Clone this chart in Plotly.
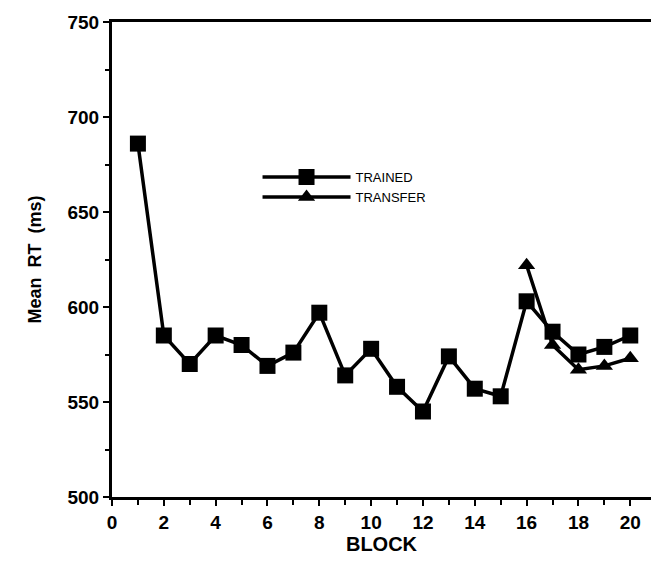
import plotly.graph_objects as go

blocks = list(range(1, 21))
trained = [686, 585, 570, 585, 580, 569, 576, 597, 564, 578,
           558, 545, 574, 557, 553, 603, 587, 575, 579, 585]
transfer_blocks = [16, 17, 18, 19, 20]
transfer = [622, 580, 567, 569, 573]
x_ticks = list(range(0, 21, 2))
y_ticks = [500, 550, 600, 650, 700, 750]

fig = go.Figure()
fig.add_trace(go.Scatter(
    x=blocks, y=trained, mode="lines+markers", name="TRAINED",
    line=dict(color="black", width=3.5),
    marker=dict(symbol="square", size=16, color="black"),
))
fig.add_trace(go.Scatter(
    x=transfer_blocks, y=transfer, mode="lines+markers", name="TRANSFER",
    line=dict(color="black", width=3.5),
    marker=dict(symbol="triangle-up", size=15, color="black"),
))

fig.update_layout(
    width=651, height=564,
    margin=dict(l=112, r=0, t=22, b=67),
    plot_bgcolor="white", paper_bgcolor="white",
    font=dict(family="Liberation Sans, Arial, sans-serif", color="black"),
    showlegend=True,
    legend=dict(x=0.27, y=0.705, xanchor="left", yanchor="top",
                bgcolor="rgba(0,0,0,0)", itemwidth=88,
                font=dict(size=13, family="Liberation Sans Narrow, Liberation Sans, Arial"),
                tracegroupgap=0),
)
fig.update_xaxes(
    range=[0, 20.8], tickvals=x_ticks, ticktext=[str(v) for v in x_ticks],
    showgrid=False, zeroline=False,
    showline=True, linecolor="black", linewidth=3, mirror=True,
    ticks="outside", ticklen=6, tickwidth=2, tickcolor="black",
    minor=dict(dtick=1, ticks="outside", ticklen=5, tickwidth=2, tickcolor="black", showgrid=False),
    tickfont=dict(size=19, weight="bold"),
    title=dict(text="BLOCK", font=dict(size=20, weight="bold"), standoff=2),
)
fig.update_yaxes(
    range=[500, 750], tickvals=y_ticks,
    showgrid=False, zeroline=False,
    showline=True, linecolor="black", linewidth=3,
    ticks="outside", ticklen=6, tickwidth=2, tickcolor="black",
    minor=dict(dtick=25, ticks="outside", ticklen=4, tickwidth=2, tickcolor="black", showgrid=False),
    tickfont=dict(size=19, weight="bold"),
    title=dict(text="Mean  RT  (ms)", font=dict(size=18, weight="bold"), standoff=22),
)

fig.write_html("out.html")
